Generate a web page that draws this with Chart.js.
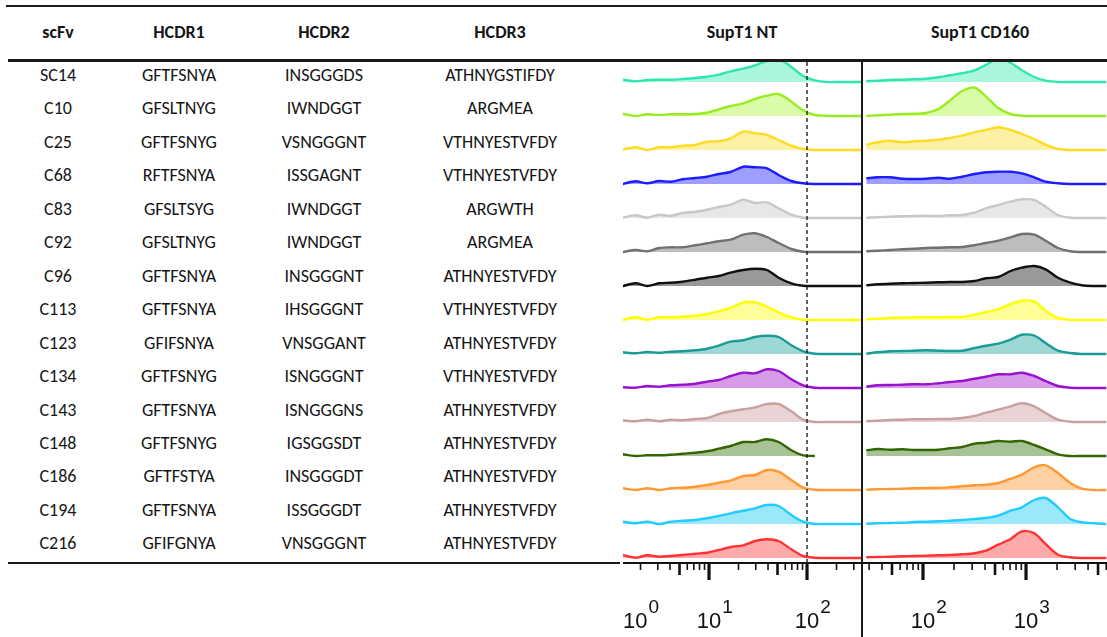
<!DOCTYPE html>
<html>
<head>
<meta charset="utf-8">
<script src="https://cdn.jsdelivr.net/npm/chart.js@4.4.1/dist/chart.umd.min.js"></script>
<style>
  html,body{margin:0;padding:0;background:#fff;}
  #page{position:relative;width:1107px;height:637px;overflow:hidden;font-family:Carlito,Lato,sans-serif;color:#151515;}
  .cell{position:absolute;transform:translate(-50%,-50%);white-space:nowrap;font-size:18px;}
  .head{font-weight:bold;}
  .rule{position:absolute;background:#1a1a1a;}
  canvas{position:absolute;}
</style>
</head>
<body>
<div id="page">
  <canvas id="ntChart" width="239" height="576" style="left:623px;top:61px"></canvas>
  <canvas id="cdChart" width="245" height="576" style="left:862px;top:61px"></canvas>
  <div class="rule" style="left:6px;top:5px;width:1101px;height:2px"></div>
  <div class="rule" style="left:8px;top:59px;width:1099px;height:3px"></div>
  <div class="rule" style="left:8px;top:562px;width:612px;height:2px"></div>
  <div class="rule" style="left:861px;top:60px;width:2px;height:577px"></div>
</div>
<script>
// table
const headers   = ['scFv','HCDR1','HCDR2','HCDR3','SupT1 NT','SupT1 CD160'];
const scfvs     = ['SC14','C10','C25','C68','C83','C92','C96','C113','C123','C134','C143','C148','C186','C194','C216'];
const hcdr1     = ['GFTFSNYA','GFSLTNYG','GFTFSNYG','RFTFSNYA','GFSLTSYG','GFSLTNYG','GFTFSNYA','GFTFSNYA','GFIFSNYA','GFTFSNYG','GFTFSNYA','GFTFSNYG','GFTFSTYA','GFTFSNYA','GFIFGNYA'];
const hcdr2     = ['INSGGGDS','IWNDGGT','VSNGGGNT','ISSGAGNT','IWNDGGT','IWNDGGT','INSGGGNT','IHSGGGNT','VNSGGANT','ISNGGGNT','ISNGGGNS','IGSGGSDT','INSGGGDT','ISSGGGDT','VNSGGGNT'];
const hcdr3     = ['ATHNYGSTIFDY','ARGMEA','VTHNYESTVFDY','VTHNYESTVFDY','ARGWTH','ARGMEA','ATHNYESTVFDY','VTHNYESTVFDY','ATHNYESTVFDY','VTHNYESTVFDY','ATHNYESTVFDY','ATHNYESTVFDY','ATHNYESTVFDY','ATHNYESTVFDY','ATHNYESTVFDY'];

// histogram x positions (log10 of fluorescence) and heights per clone
const ntExp = [0.12,0.25,0.37,0.49,0.61,0.73,0.86,0.98,1.1,1.22,1.35,1.47,1.59,1.71,1.84,1.96,2.08,2.2,2.33,2.45,2.57];
const cdExp = [1.45,1.56,1.68,1.8,1.91,2.03,2.15,2.26,2.38,2.5,2.61,2.73,2.85,2.96,3.08,3.19,3.31,3.43,3.54,3.66,3.78];

const ntCounts = [
  [2.3,0.7,2,2.3,2.3,3,4,5.3,7.3,10.7,13.3,16.7,21,23,15,6,1.7,0,0,0,0],
  [2.3,0,1.7,1,1.7,1.7,2,3.3,6.7,10,12.7,17,20.3,22,14.3,5.7,1,0.3,0,0,0],
  [0.3,2.7,0,2.7,2.7,4.3,5,8.3,8.7,11.7,18.5,16.7,15,10,4.3,1,0,0,0,0,0],
  [0,2.7,0.7,3,2.3,4.7,6,7.3,10,12,17.3,16.7,15.7,9,3,0.7,0,0,0,0,0],
  [0.3,2.7,0.3,3.3,2.3,5,6.3,8.3,11,13.3,18.3,15,15.7,9.7,3.3,0.3,0,0,0,0,0],
  [0,2,0.7,4,4.7,4.7,6.7,8.7,10.7,12.3,17.3,18.7,15,9,3,0.3,0,0,0,0,0],
  [0,2.7,0,2.7,3.3,4.3,6.3,8.3,10,13.3,16,17.3,16,8.3,2.7,0.3,0,0,0,0,0],
  [0,2.7,0.3,2.7,2.7,3.3,4.3,6,8.7,12,17.7,17.7,13.3,7.7,2.7,0.3,0,0,0,0,0],
  [1.7,0.7,2,1.3,2.3,2.7,3.7,5.3,8.3,12.3,13.7,17,18.3,17,8.7,2.7,0.3,0,0,0,0],
  [0.7,0.3,2,1.3,2.7,3.3,4.3,6.3,8,12,15.3,14.7,18.7,17,8.7,2.7,0.3,0,0,0,0],
  [1.7,0.7,2.3,0.7,2.3,1.7,3,4,8,10.7,12.7,14.7,18,18,10.7,2.3,0,0,0,0,0],
  [1.7,0,0.7,0.7,1.3,2.3,3.3,4.7,7.3,10,14,14,16.7,14,5.7,0.7,0,null,null,null,null],
  [1.7,0,1.7,0,1.7,2.3,3.3,5,7.3,9.3,14,15,20,18.3,10,2.3,0.3,0,0,0,0],
  [2.3,0.7,2.3,0,2.3,3.3,4,5.7,8,10.7,13.3,15.7,19,18,9,2.3,0,0,0,0,0],
  [3,0.3,2.7,1.3,2,3,4.3,5.3,8,11,12.7,17,18.7,17,8.7,2,0.3,0,0,0,0]
];

const cdCounts = [
  [0.7,1.3,2,2.3,2.7,3.3,4.7,6.7,8.7,11.7,17,24,19.3,11.7,5,1.3,0,0,0,0,0],
  [0,0.7,1.3,2,2.3,3,7,15.3,25,28.5,19.7,8,2,0.3,0,0,0,0,0,0,0],
  [5.3,7.7,9.3,7.7,8.7,9.3,10.3,12,14.3,17.7,20,22.7,20,16,11,5.3,1,0,0,0,0],
  [5.7,6.7,6.7,5.3,5,5.3,6.3,5.3,7.3,10,11.7,12.3,12.3,10.7,6.7,2.3,0.7,0,0,0,0],
  [0.3,0.7,1.3,1.7,2,2.3,2,2.7,3,5.3,9.7,13,16.3,18.7,18,11.3,3,0.3,0,0,0],
  [0.7,1.3,2,2.7,3.3,4,4.3,4.7,5,6.7,9,11.3,14.7,18,17.3,11.3,4,0.7,0,0,0],
  [0.7,1.7,2.3,2.7,3,3.3,3.7,4,4,5,7.7,9,15,18.3,20,16.7,8.3,3.3,0.7,0,0],
  [0.7,1.3,2,2.3,2.7,3,2.7,3,3,5.3,8,10.7,16,19.3,18.7,9.3,2,0.3,0,0,0],
  [0.3,1.7,2.7,3,3.3,3.7,3.3,3,3.3,6,8.3,10.3,14.3,19.3,18.3,11,3.3,1,0,0,0],
  [1.3,2.7,3,3.3,3.7,3.7,4.7,6,7,9.3,11.3,13.7,13.7,15.3,12,7,2,0.3,0,0,0],
  [0.7,1.3,2,2.3,2.7,2.7,3,3,4,6,9.3,12.3,15.7,18.7,15.7,9,2.3,0.3,0,0,0],
  [5.7,7,6.3,6.7,6,6,6.3,7.7,9,12.3,13.3,15,14.3,15,11,6.7,1.7,0,0,0,0],
  [0.3,0.7,1,1.3,1.7,2,2,2.7,3.7,4.7,5.3,7,11.3,15.3,22.7,24.7,17,7,1.3,0,0],
  [0.3,0.7,1,1.3,2,2.3,2.7,3.3,4,5,6,8.3,13.3,16.7,24,26,16.7,5,1.7,0.7,0],
  [0.7,1,1.3,1.7,2,2.3,2.7,3,3.7,4.7,7.3,13.3,19,26.7,24.7,14,3.3,0.7,0,0,0]
];

const lineColors = ['#2ee6b0','#99ec22','#ffdc22','#1c1cff','#c8c8c8','#707070','#111111','#ffff00','#1b9b98','#9912cf','#c9a0a0','#336600','#ff9933','#22ccff','#ff3333'];
const fillColors = ['#a9f6dd','#dafca9','#fdf1a6','#9e9eff','#e7e7e7','#bdbdbd','#999999','#ffff99','#9dd8d5','#d79be8','#e8d4d4','#a8c298','#fdd1a4','#9be8fb','#ffaaaa'];

const page = document.getElementById('page');
function addText(txt, x, y, cls){
  const d = document.createElement('div');
  d.className = 'cell' + (cls ? ' ' + cls : '');
  d.style.left = x + 'px';
  d.style.top = y + 'px';
  d.textContent = txt;
  page.appendChild(d);
}
const headX = [58,179,324,500,742,980];
headers.forEach((h,i)=>addText(h, headX[i], 32, 'head'));
scfvs.forEach((s,i)=>{
  const y = 75 + i*33.45;
  addText(s, 58, y);
  addText(hcdr1[i], 179, y);
  addText(hcdr2[i], 324, y);
  addText(hcdr3[i], 500, y);
});

const AXIS_Y = 502; // canvas px (page y 563)

const logAxis = {
  id:'logAxis',
  afterDatasetsDraw(chart, args, opts){
    const ctx = chart.ctx, sx = chart.scales.x, area = chart.chartArea;
    ctx.save();
    // dashed cut-off line
    if(opts.dashAt){
      const px = sx.getPixelForValue(opts.dashAt);
      ctx.strokeStyle = '#111';
      ctx.lineWidth = 1.3;
      ctx.setLineDash([4,3]);
      ctx.beginPath();
      ctx.moveTo(px, 1);
      ctx.lineTo(px, AXIS_Y);
      ctx.stroke();
      ctx.setLineDash([]);
    }
    // axis line
    ctx.fillStyle = '#111';
    ctx.fillRect(area.left, AXIS_Y - 1, area.right - area.left, 2);
    const d0 = Math.floor(Math.log10(sx.min)), d1 = Math.ceil(Math.log10(sx.max));
    for(let d = d0; d <= d1; d++){
      for(let m = 1; m <= 9; m++){
        const v = m * Math.pow(10, d);
        if(v < sx.min || v > sx.max) continue;
        const px = sx.getPixelForValue(v);
        let w = 1.6, len = 7;
        if(m === 1){ w = 3.2; len = 17; }
        else if(m === 5){ w = 2.6; len = 12; }
        ctx.fillRect(px - w/2, AXIS_Y, w, len);
      }
    }
    // labels 10^n
    (opts.labels || []).forEach(e=>{
      const px = sx.getPixelForValue(Math.pow(10, e));
      ctx.font = '22px "Liberation Sans", Arial, sans-serif';
      ctx.textBaseline = 'alphabetic';
      const w = ctx.measureText('10').width;
      const left = Math.max(area.left, px - w/2);
      ctx.fillText('10', left, 567);
      ctx.font = '19px "Liberation Sans", Arial, sans-serif';
      ctx.fillText(String(e), left + w + 1, 552);
    });
    ctx.restore();
  }
};

function buildChart(id, exps, counts, xMin, xMax, opts){
  const datasets = counts.map((h, i)=>{
    const base = 555 - 34*i;
    return {
      label: scfvs[i],
      data: exps.map((e,k)=>({x: Math.pow(10, e), y: h[k] == null ? null : base + h[k]})),
      borderColor: lineColors[i],
      backgroundColor: fillColors[i],
      borderWidth: 2.4,
      pointRadius: 0,
      tension: 0.3,
      fill: {value: base}
    };
  });
  return new Chart(document.getElementById(id), {
    type:'line',
    data:{datasets},
    options:{
      responsive:false,
      animation:false,
      devicePixelRatio:1,
      layout:{padding:0},
      plugins:{legend:{display:false}, tooltip:{enabled:false}, logAxis:opts},
      scales:{
        x:{type:'logarithmic', min:xMin, max:xMax, display:false},
        y:{type:'linear', min:0, max:576, display:false}
      }
    },
    plugins:[logAxis]
  });
}

buildChart('ntChart', ntExp, ntCounts, Math.pow(10,0.1224), Math.pow(10,2.561), {labels:[0,1,2], dashAt:100});
buildChart('cdChart', cdExp, cdCounts, Math.pow(10,1.408), Math.pow(10,3.786), {labels:[2,3]});
</script>
</body>
</html>
